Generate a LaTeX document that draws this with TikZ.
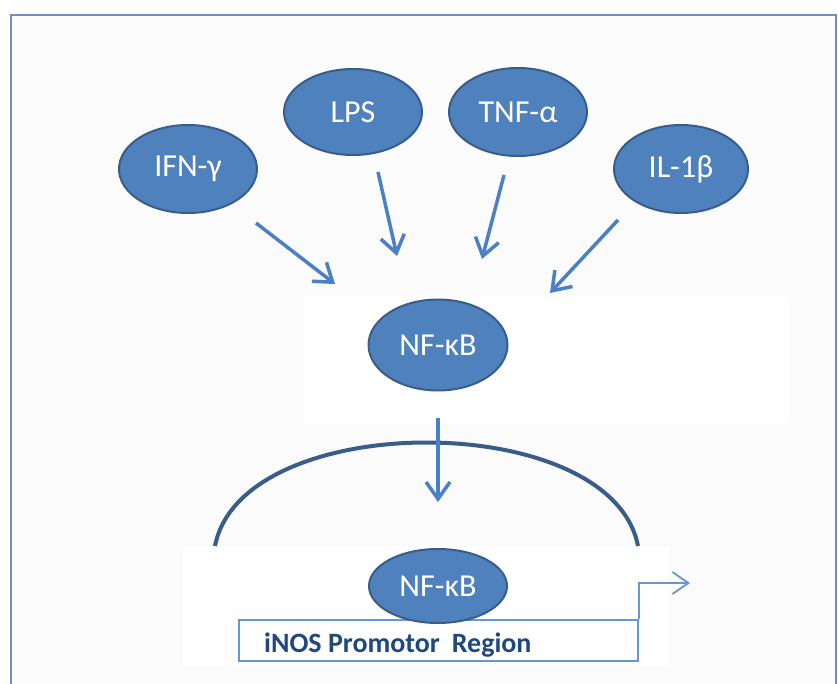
\documentclass[tikz,border=0pt]{standalone}
\usepackage{fontspec}
\setmainfont{Carlito}
\usetikzlibrary{shapes.geometric,arrows.meta}
\definecolor{fillblue}{RGB}{79,129,189}
\definecolor{edgeblue}{RGB}{56,93,138}
\definecolor{arrowblue}{RGB}{74,128,198}
\definecolor{framecol}{RGB}{110,144,190}
\definecolor{thinblue}{RGB}{104,150,206}
\definecolor{textnavy}{RGB}{31,73,125}
\definecolor{bgtint}{RGB}{252,251,252}
\begin{document}
\begin{tikzpicture}[x=1pt,y=-1pt,
  factor/.style={ellipse, fill=fillblue, draw=edgeblue, line width=2pt, text=white,
    font=\fontsize{32}{36}\selectfont, inner sep=0pt, minimum width=138pt, minimum height=88pt},
  signal/.style={draw=arrowblue, line width=3.5pt, -{Straight Barb[length=17pt,width=24pt]}},
  thinarrow/.style={draw=thinblue, line width=1.8pt, -{Straight Barb[length=16pt,width=22pt]}},
  membrane/.style={draw=edgeblue, line width=4pt},
  panel/.style={fill=white, draw=none}
]
\useasboundingbox (0,0) rectangle (838,684);
\fill[white] (0,0) rectangle (838,684);
\fill[bgtint] (11,15) rectangle (836,684);
% white panels
\fill[white] (304,297) rectangle (790,423);
% membrane arc
\draw[membrane] (215,546) .. controls (241.6,408) and (611.4,408) .. (638,546);
\fill[white] (183,547) rectangle (669,665);
% nodes
\node[factor] (ifn) at (188,169) {IFN-γ};
\node[factor, minimum height=86pt] (lps) at (353,112) {LPS};
\node[factor] (tnf) at (518,112) {TNF-α};
\node[factor, minimum width=134pt] (il) at (681,169) {IL-1β};
\node[factor, minimum width=139pt, minimum height=91pt] (nfa) at (438,345) {NF-κB};
% promoter
\node[draw=thinblue, line width=1.8pt, fill=white, minimum width=399pt, minimum height=41pt,
  inner sep=0pt, anchor=north west] (prom) at (238,619) {};
\node[anchor=base west, inner sep=0pt, text=textnavy, font=\bfseries\fontsize{28}{32}\selectfont]
  (promlabel) at (264,652) {iNOS Promotor\hspace{0.2em} Region};
\node[factor, minimum height=74pt] (nfb) at (438,586) {NF-κB};
% arrow coordinates
\coordinate (ifn-s) at (256,223); \coordinate (ifn-e) at (335,284);
\coordinate (lps-s) at (378,172); \coordinate (lps-e) at (397,256);
\coordinate (tnf-s) at (504,175); \coordinate (tnf-e) at (482,259);
\coordinate (il-s) at (618,220);  \coordinate (il-e) at (550,293);
\coordinate (nf-s) at (438,418);  \coordinate (nf-e) at (438,502);
\coordinate (tss) at (690,583);
\draw[signal] (ifn-s) -- (ifn-e);
\draw[signal] (lps-s) -- (lps-e);
\draw[signal] (tnf-s) -- (tnf-e);
\draw[signal] (il-s) -- (il-e);
\draw[signal] (nf-s) -- (nf-e);
\draw[thinarrow] (prom.north east) |- (tss);
% frame
\draw[framecol, line width=2pt] (11,690) -- (11,15) -- (836,15) -- (836,690);
\end{tikzpicture}
\end{document}
